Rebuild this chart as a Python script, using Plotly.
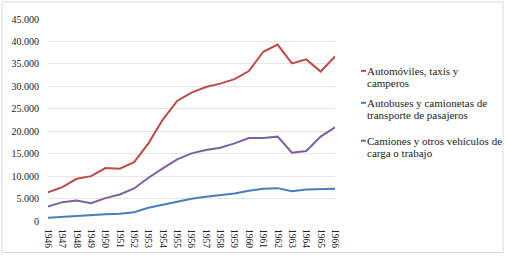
import plotly.graph_objects as go

years = [str(y) for y in range(1946, 1967)]
series_names = [
    "Automóviles, taxis y<br>camperos",
    "Autobuses y camionetas de<br>transporte de pasajeros",
    "Camiones y otros vehículos de<br>carga o trabajo",
]
autos = [6400, 7550, 9400, 10000, 11800, 11650, 13100, 17300, 22600, 26750, 28600,
         29850, 30600, 31600, 33400, 37700, 39300, 35100, 36000, 33300, 36650]
buses = [720, 940, 1070, 1230, 1520, 1600, 1960, 2950, 3620, 4420, 4950,
         5400, 5690, 6140, 6740, 7190, 7320, 6650, 7030, 7190, 7190]
camiones = [3240, 4200, 4580, 3970, 5090, 5920, 7250, 9640, 11720, 13730, 15070,
            15810, 16340, 17300, 18480, 18480, 18790, 15220, 15580, 18790, 20870]
colors = ["#BE4B48", "#4A7EBB", "#7D60A0"]
y_ticks = [0, 5000, 10000, 15000, 20000, 25000, 30000, 35000, 40000, 45000]

fig = go.Figure()
for vals, c, n in zip([autos, buses, camiones], colors, series_names):
    fig.add_trace(go.Scatter(x=years, y=vals, mode="lines", name=n.replace("<br>", " "),
                             line=dict(color=c, width=2), showlegend=False))

font = "Liberation Serif"
H = 202.5
W = 287
legend_y = [71, 103, 141]
line_gap = 12
for i, (n, c) in enumerate(zip(series_names, colors)):
    for j, part in enumerate(n.split("<br>")):
        yy = legend_y[i] + j * line_gap
        fig.add_annotation(xref="paper", yref="paper", x=(365 - 48) / W,
                           y=1 - (yy - 19) / H, xanchor="left", yanchor="middle",
                           text=part, showarrow=False, align="left",
                           font=dict(family=font, size=11, color="#222"))
    fig.add_shape(type="line", xref="paper", yref="paper",
                  x0=(361 - 48) / W, x1=(366 - 48) / W,
                  y0=1 - (legend_y[i] - 19) / H, y1=1 - (legend_y[i] - 19) / H,
                  line=dict(color=c, width=2))

fig.add_shape(type="rect", xref="paper", yref="paper",
              x0=-46 / W, x1=(503 - 48) / W, y0=-(253 - 221.5) / H, y1=1 + 17 / H,
              line=dict(color="#D9D9D9", width=1))

fig.update_layout(
    width=505, height=256,
    margin=dict(l=48, r=170, t=19, b=34.5, pad=0, autoexpand=False),
    paper_bgcolor="white", plot_bgcolor="white",
    separators=",.",
    font=dict(family=font, size=10, color="#222"),
    xaxis=dict(type="category", tickangle=90, showgrid=False, showline=False,
               ticks="outside", ticklen=5, tickcolor="rgba(0,0,0,0)",
               automargin=False, tickfont=dict(size=9.5, family=font)),
    yaxis=dict(range=[0, 45000], tickvals=y_ticks, tickformat=",d",
               gridcolor="#E6E6E6", gridwidth=1, zeroline=False, showline=False,
               ticks="outside", ticklen=6, tickcolor="rgba(0,0,0,0)",
               automargin=False, tickfont=dict(size=10, family=font)),
)
fig.write_html("out.html", config={"displayModeBar": False},
               post_script="document.body.style.margin='0';")
